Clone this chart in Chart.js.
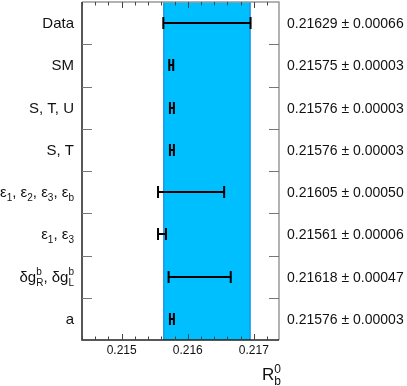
<!DOCTYPE html>
<html>
<head>
<meta charset="utf-8">
<script src="https://cdn.jsdelivr.net/npm/chart.js@4.4.1/dist/chart.umd.min.js"></script>
<style>
  html, body { margin: 0; padding: 0; background: #fff; }
  #wrap { width: 407px; height: 386px; }
</style>
</head>
<body>
<div id="wrap"><canvas id="rbChart"></canvas></div>
<script>
// datos del ajuste
const categorias = ['Data', 'SM', 'S, T, U', 'S, T',
  'ε_{1}, ε_{2}, ε_{3}, ε_{b}', 'ε_{1}, ε_{3}', 'δg_{R}^{b}, δg_{L}^{b}', 'a'];
const valores = [0.21629, 0.21575, 0.21576, 0.21576, 0.21605, 0.21561, 0.21618, 0.21576];
const errores = [0.00066, 0.00003, 0.00003, 0.00003, 0.00050, 0.00006, 0.00047, 0.00003];
const ticksX = [0.215, 0.216, 0.217];
const xMin = 0.2144, xMax = 0.21738;

const FONT = '"Liberation Sans", Arial, Helvetica, sans-serif';

// texto con sub/superindices: a_{x}^{y}
function parseRico(str) {
  const partes = [];
  let i = 0;
  while (i < str.length) {
    const c = str[i];
    if ((c === '_' || c === '^') && str[i + 1] === '{') {
      const fin = str.indexOf('}', i);
      const txt = str.slice(i + 2, fin);
      const prev = partes[partes.length - 1];
      if (prev && prev.tipo === 'script' && prev.justo) {
        if (c === '_') prev.sub = txt; else prev.sup = txt;
        prev.justo = false;
      } else {
        partes.push({ tipo: 'script', sub: c === '_' ? txt : '', sup: c === '^' ? txt : '', justo: true });
      }
      i = fin + 1;
    } else {
      const prev = partes[partes.length - 1];
      if (prev && prev.tipo === 'texto') prev.txt += c;
      else partes.push({ tipo: 'texto', txt: c });
      i++;
    }
  }
  return partes;
}

function dibujarRico(ctx, str, x, y, size, align) {
  const partes = parseRico(str);
  const small = Math.round(size * 0.68);
  const medir = () => {
    let w = 0;
    partes.forEach(p => {
      if (p.tipo === 'texto') { ctx.font = size + 'px ' + FONT; w += ctx.measureText(p.txt).width; }
      else {
        ctx.font = small + 'px ' + FONT;
        w += Math.max(ctx.measureText(p.sub).width, ctx.measureText(p.sup).width);
      }
    });
    return w;
  };
  let cx = align === 'right' ? x - medir() : x;
  ctx.textAlign = 'left';
  ctx.textBaseline = 'alphabetic';
  partes.forEach(p => {
    if (p.tipo === 'texto') {
      ctx.font = size + 'px ' + FONT;
      ctx.fillText(p.txt, cx, y);
      cx += ctx.measureText(p.txt).width;
    } else {
      ctx.font = small + 'px ' + FONT;
      if (p.sub) ctx.fillText(p.sub, cx, y + size * 0.27);
      if (p.sup) ctx.fillText(p.sup, cx, y - size * 0.42);
      cx += Math.max(ctx.measureText(p.sub).width, ctx.measureText(p.sup).width);
    }
  });
}

const pluginFigura = {
  id: 'figuraRb',
  beforeDatasetsDraw(chart) {
    const { ctx, chartArea: a, scales: { x } } = chart;
    // banda azul = Data +- 1 sigma
    const x1 = x.getPixelForValue(valores[0] - errores[0]);
    const x2 = x.getPixelForValue(valores[0] + errores[0]);
    ctx.save();
    ctx.fillStyle = '#00bfff';
    ctx.fillRect(x1, a.top, x2 - x1, a.bottom - a.top);
    ctx.strokeStyle = '#1f7fe0';
    ctx.lineWidth = 1;
    ctx.beginPath();
    ctx.moveTo(x1 + 0.5, a.top); ctx.lineTo(x1 + 0.5, a.bottom);
    ctx.moveTo(x2 - 0.5, a.top); ctx.lineTo(x2 - 0.5, a.bottom);
    ctx.stroke();
    ctx.restore();
  },
  afterDatasetsDraw(chart) {
    const { ctx, chartArea: a, scales: { x, y } } = chart;
    ctx.save();
    // barras de error
    ctx.strokeStyle = '#000';
    ctx.lineWidth = 2;
    valores.forEach((v, i) => {
      const py = Math.round(y.getPixelForValue(i));
      const xa = x.getPixelForValue(v - errores[i]);
      const xb = x.getPixelForValue(v + errores[i]);
      ctx.beginPath();
      ctx.moveTo(xa, py); ctx.lineTo(xb, py);
      ctx.moveTo(xa, py - 6); ctx.lineTo(xa, py + 6);
      ctx.moveTo(xb, py - 6); ctx.lineTo(xb, py + 6);
      ctx.stroke();
    });

    // marco
    ctx.lineWidth = 1.5;
    ctx.strokeStyle = '#999';
    ctx.beginPath();
    ctx.moveTo(a.left, a.top); ctx.lineTo(a.right, a.top); ctx.lineTo(a.right, a.bottom);
    ctx.stroke();
    ctx.strokeStyle = '#222';
    ctx.beginPath();
    ctx.moveTo(a.left, a.top); ctx.lineTo(a.left, a.bottom); ctx.lineTo(a.right, a.bottom);
    ctx.stroke();

    // ticks eje x (arriba y abajo, hacia dentro)
    ctx.lineWidth = 1;
    ctx.strokeStyle = '#444';
    for (let k = Math.ceil(xMin / 0.0002); k * 0.0002 <= xMax; k++) {
      const v = k * 0.0002;
      const px = Math.round(x.getPixelForValue(v)) + 0.5;
      const mayor = ticksX.some(t => Math.abs(t - v) < 1e-9);
      const len = mayor ? 6 : 3.5;
      ctx.beginPath();
      ctx.moveTo(px, a.bottom); ctx.lineTo(px, a.bottom - len);
      ctx.moveTo(px, a.top); ctx.lineTo(px, a.top + len);
      ctx.stroke();
    }
    // ticks eje y en los limites de cada fila
    ctx.strokeStyle = '#777';
    const fila = (a.bottom - a.top) / categorias.length;
    for (let i = 1; i < categorias.length; i++) {
      const py = Math.round(a.top + i * fila) + 0.5;
      ctx.beginPath();
      ctx.moveTo(a.left, py); ctx.lineTo(a.left + 10, py);
      ctx.moveTo(a.right, py); ctx.lineTo(a.right - 10, py);
      ctx.stroke();
    }

    // textos
    ctx.fillStyle = '#111';
    ticksX.forEach(t => {
      ctx.font = '12px ' + FONT;
      ctx.textAlign = 'center';
      ctx.textBaseline = 'alphabetic';
      ctx.fillText(t.toFixed(3), x.getPixelForValue(t), a.bottom + 14);
    });
    categorias.forEach((c, i) => {
      const py = y.getPixelForValue(i) + 5;
      dibujarRico(ctx, c, a.left - 8, py, 15, 'right');
      ctx.font = '14px ' + FONT;
      ctx.textAlign = 'left';
      ctx.fillText(valores[i].toFixed(5) + ' ± ' + errores[i].toFixed(5), a.right + 8, py);
    });
    // titulo eje x
    dibujarRico(ctx, 'R_{b}^{0}', 262, 380, 17, 'left');
    ctx.restore();
  }
};

new Chart(document.getElementById('rbChart'), {
  type: 'scatter',
  data: {
    datasets: [{
      data: valores.map((v, i) => ({ x: v, y: categorias[i] })),
      pointRadius: 0,
      pointHoverRadius: 0
    }]
  },
  options: {
    responsive: true, maintainAspectRatio: false, animation: false,
    layout: { padding: { left: 82, right: 128, top: 2, bottom: 46 } },
    plugins: { legend: { display: false }, tooltip: { enabled: false } },
    scales: {
      x: { type: 'linear', min: xMin, max: xMax, display: false },
      y: { type: 'category', labels: categorias, offset: true, display: false }
    }
  },
  plugins: [pluginFigura]
});
</script>
</body>
</html>
